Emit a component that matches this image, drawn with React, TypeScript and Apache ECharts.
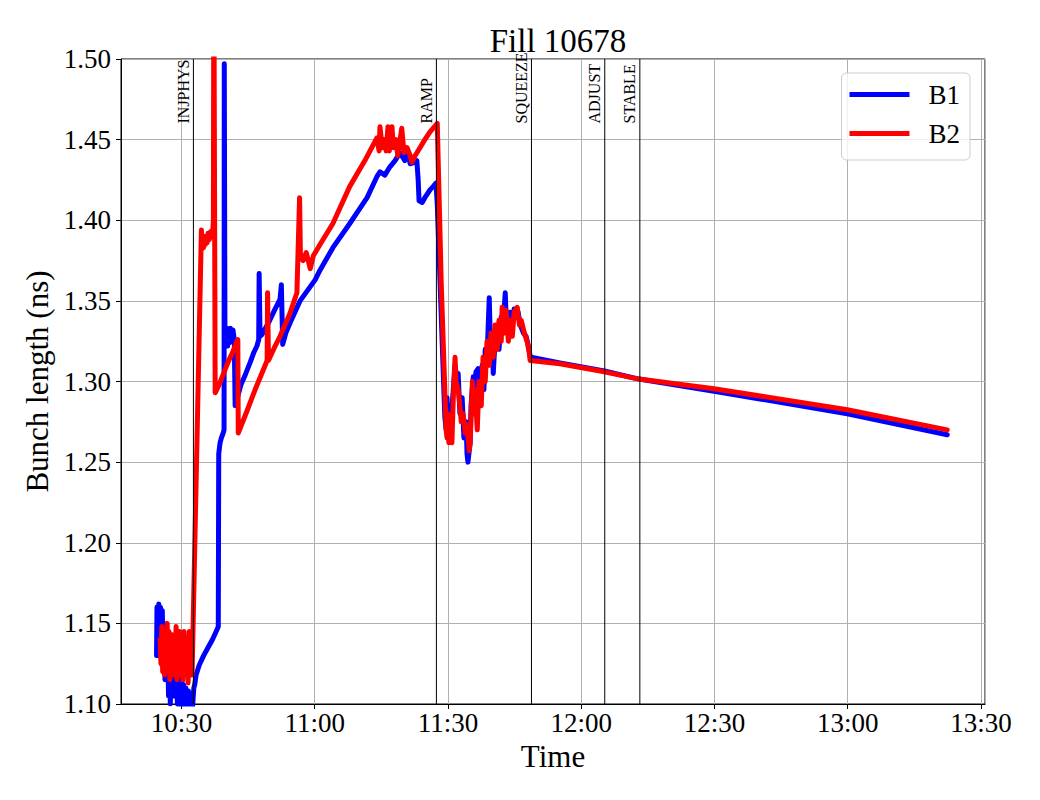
import React, { useEffect, useRef } from "react";
import * as echarts from "echarts";

const FONT = "Liberation Serif";

// Time in minutes since midnight
const b1Time = [
  624.4, 624.5, 624.7, 624.9, 625.1, 625.3, 625.5, 625.7, 625.9, 626.1, 626.3, 626.5, 626.7, 626.9, 627.1, 627.3,
  627.5, 627.7, 627.9, 628.1, 628.3, 628.5, 628.7, 628.9, 629.1, 629.3, 629.5, 629.7, 629.9, 630.1, 630.3, 630.5,
  630.8, 631.0, 631.3, 631.6, 631.9, 632.2, 632.5, 632.8, 633.0, 633.3, 634.0, 635.0, 636.0, 637.0, 638.0, 638.3,
  638.4, 638.7, 639.0, 639.4, 639.6, 639.65, 639.8, 640.0, 640.2, 640.4, 640.6, 640.8, 641.0, 641.3, 641.6, 641.9,
  642.1, 643.4, 644.5, 645.5, 646.3, 647.0, 647.4, 647.5, 647.7, 648.1, 649.9, 651.1, 652.2, 652.5, 652.8, 653.5,
  654.4, 656.7, 660.1, 661.2, 664.1, 667.9, 671.8, 674.0, 674.7, 675.8, 676.9, 678.1, 679.2, 680.3, 681.0, 681.5,
  682.6, 683.0, 683.3, 683.5, 684.2, 684.8, 686.0, 686.7, 687.3, 687.6, 688.5, 689.3, 689.6, 689.8, 690.0, 690.2,
  690.7, 691.2, 691.6, 692.1, 692.3, 692.7, 693.2, 693.6, 694.1, 694.3, 694.5, 695.0, 695.2, 695.7, 695.9, 696.3,
  696.8, 697.2, 697.7, 698.1, 698.4, 698.8, 699.3, 699.5, 699.9, 700.2, 700.6, 701.1, 701.5, 702.0, 702.4, 702.9,
  703.1, 703.6, 704.0, 704.5, 704.9, 705.4, 705.8, 706.3, 707.0, 707.6, 708.1, 708.5, 708.7, 715.2, 725.2, 733.0,
  749.9, 779.9, 802.4,
];
const b1Value = [
  1.13, 1.16, 1.14, 1.162, 1.13, 1.16, 1.125, 1.158, 1.12, 1.15, 1.115, 1.145, 1.12, 1.135, 1.105, 1.13,
  1.1, 1.125, 1.112, 1.13, 1.105, 1.125, 1.108, 1.12, 1.1, 1.118, 1.098, 1.115, 1.1, 1.12, 1.095, 1.112,
  1.098, 1.11, 1.095, 1.108, 1.097, 1.105, 1.098, 1.11, 1.112, 1.118, 1.124, 1.13, 1.135, 1.14, 1.146, 1.148,
  1.255, 1.262, 1.265, 1.268, 1.27, 1.497, 1.33, 1.325, 1.333, 1.322, 1.332, 1.324, 1.333, 1.325, 1.332, 1.326,
  1.285, 1.298, 1.305, 1.312, 1.318, 1.322, 1.326, 1.367, 1.328, 1.329, 1.338, 1.345, 1.351, 1.36, 1.323, 1.33,
  1.336, 1.35, 1.363, 1.369, 1.383, 1.398, 1.414, 1.427, 1.43, 1.428, 1.433, 1.437, 1.442, 1.437, 1.442, 1.435,
  1.436, 1.437, 1.425, 1.412, 1.411, 1.414, 1.419, 1.421, 1.423, 1.41, 1.34, 1.278, 1.27, 1.29, 1.268, 1.285,
  1.275, 1.295, 1.31, 1.3, 1.305, 1.28, 1.29, 1.265, 1.275, 1.255, 1.25, 1.262, 1.285, 1.303, 1.29, 1.306,
  1.308, 1.29, 1.31, 1.295, 1.32, 1.315, 1.352, 1.33, 1.33, 1.305, 1.325, 1.335, 1.32, 1.34, 1.335, 1.355,
  1.34, 1.335, 1.343, 1.335, 1.345, 1.34, 1.343, 1.335, 1.33, 1.328, 1.322, 1.316, 1.315, 1.3115, 1.3065, 1.3015,
  1.294, 1.28, 1.267,
];

const b2Time = [
  625.2, 625.4, 625.6, 625.8, 626.0, 626.2, 626.4, 626.6, 626.8, 627.0, 627.2, 627.4, 627.6, 627.8, 628.0, 628.2,
  628.4, 628.6, 628.8, 629.0, 629.2, 629.4, 629.6, 629.8, 630.0, 630.3, 630.6, 630.9, 631.2, 631.5, 631.8, 632.0,
  632.4, 634.5, 634.6, 634.8, 635.0, 635.2, 635.4, 635.6, 635.8, 636.0, 636.3, 636.6, 636.9, 637.1, 637.2, 637.3,
  637.6, 638.5, 639.5, 640.5, 641.5, 642.7, 642.8, 644.8, 646.6, 649.3, 649.4, 649.6, 651.1, 652.2, 654.4, 656.0,
  656.6, 656.8, 657.4, 658.1, 659.0, 659.7, 661.2, 664.1, 667.9, 671.3, 674.0, 674.5, 674.7, 675.2, 675.6, 676.1,
  676.5, 676.8, 677.4, 677.7, 678.3, 678.7, 679.6, 680.1, 680.8, 681.5, 681.9, 682.6, 683.7, 684.8, 686.0, 687.6,
  688.5, 689.6, 689.8, 690.0, 690.2, 690.5, 690.9, 691.2, 691.6, 691.8, 692.3, 692.7, 693.0, 693.4, 693.9, 694.3,
  694.8, 695.0, 695.5, 695.7, 696.1, 696.6, 697.0, 697.5, 697.9, 698.4, 698.8, 699.3, 699.7, 700.2, 700.6, 701.1,
  701.5, 702.0, 702.2, 702.7, 703.1, 703.6, 704.0, 704.5, 704.9, 705.6, 706.1, 706.5, 707.2, 707.9, 708.3, 708.5,
  715.2, 725.2, 733.0, 749.9, 779.9, 802.4,
];
const b2Value = [
  1.14, 1.125, 1.148, 1.12, 1.145, 1.118, 1.14, 1.125, 1.15, 1.12, 1.145, 1.115, 1.14, 1.12, 1.143, 1.118,
  1.135, 1.12, 1.148, 1.115, 1.14, 1.12, 1.145, 1.118, 1.14, 1.115, 1.145, 1.12, 1.14, 1.113, 1.145, 1.13,
  1.118, 1.394, 1.382, 1.388, 1.383, 1.39, 1.385, 1.39, 1.386, 1.392, 1.388, 1.393, 1.39, 1.395, 1.4, 1.56,
  1.293, 1.298, 1.305, 1.312, 1.318, 1.326, 1.268, 1.282, 1.295, 1.313, 1.355, 1.313, 1.322, 1.328, 1.342, 1.355,
  1.414, 1.377, 1.375, 1.38, 1.37, 1.378, 1.385, 1.398, 1.421, 1.437, 1.451, 1.443, 1.458, 1.445, 1.45, 1.443,
  1.458, 1.443, 1.458, 1.445, 1.45, 1.44, 1.457, 1.442, 1.445, 1.44, 1.436, 1.44, 1.445, 1.45, 1.455, 1.46,
  1.36, 1.27, 1.265, 1.28, 1.262, 1.27, 1.262, 1.29, 1.315, 1.3, 1.295, 1.285, 1.275, 1.28, 1.268, 1.273,
  1.257, 1.262, 1.3, 1.28, 1.295, 1.27, 1.3, 1.285, 1.315, 1.3, 1.325, 1.31, 1.33, 1.315, 1.335, 1.32,
  1.338, 1.325, 1.346, 1.33, 1.344, 1.325, 1.338, 1.328, 1.343, 1.346, 1.335, 1.338, 1.33, 1.324, 1.318, 1.313,
  1.311, 1.306, 1.3015, 1.2955, 1.2825, 1.27,
];

const eventNames = ["INJPHYS", "RAMP", "SQUEEZE", "ADJUST", "STABLE"];
const eventTimes = [632.7, 687.4, 708.8, 725.3, 733.2];
const eventLabelY = 1.46;

const xMin = 616.4;
const xMax = 810.9;
const yMin = 1.1;
const yMax = 1.5;

function fmtTime(v: number) {
  const h = Math.floor(v / 60);
  const m = Math.round(v - h * 60);
  return `${h}:${m < 10 ? "0" + m : m}`;
}

export default function App() {
  const ref = useRef<HTMLDivElement>(null);
  useEffect(() => {
    if (!ref.current) return;
    const chart = echarts.init(ref.current, null, { renderer: "svg" });
    const b1 = b1Time.map((t, i) => [t, b1Value[i]]);
    const b2 = b2Time.map((t, i) => [t, b2Value[i]]);
    const ev = eventTimes.map((t, i) => [t, eventLabelY, eventNames[i]]);
    chart.setOption({
      animation: false,
      backgroundColor: "#ffffff",
      title: {
        text: "Fill 10678",
        left: 553,
        top: 19,
        textAlign: "center",
        textStyle: { fontFamily: FONT, fontSize: 33, fontWeight: "normal", color: "#000" },
      },
      legend: {
        orient: "vertical",
        right: 70,
        top: 73,
        data: ["B1", "B2"],
        icon: "rect",
        itemWidth: 60,
        itemHeight: 5,
        itemGap: 12,
        padding: [8, 10, 13, 8],
        backgroundColor: "rgba(255,255,255,0.8)",
        borderColor: "#cccccc",
        borderWidth: 1,
        borderRadius: 5,
        textStyle: { fontFamily: FONT, fontSize: 27, color: "#000", padding: [0, 0, 0, 14], lineHeight: 26 },
      },
      grid: {
        left: 121,
        right: 55,
        top: 59,
        bottom: 96,
        show: true,
        borderColor: "#000",
        borderWidth: 1,
        backgroundColor: "transparent",
      },
      xAxis: {
        type: "value",
        min: xMin,
        max: xMax,
        minInterval: 30,
        maxInterval: 30,
        name: "Time",
        nameLocation: "middle",
        nameGap: 33,
        nameTextStyle: { fontFamily: FONT, fontSize: 31, color: "#000" },
        axisLine: { show: true, onZero: false, lineStyle: { color: "#000", width: 1 } },
        axisTick: { show: true, inside: false, length: 5, lineStyle: { color: "#000" } },
        axisLabel: {
          formatter: (v: number) => fmtTime(v),
          fontFamily: FONT,
          fontSize: 27,
          color: "#000",
          margin: 5,
          showMinLabel: false,
        },
        splitLine: { show: true, lineStyle: { color: "#b0b0b0", width: 1 } },
      },
      yAxis: {
        type: "value",
        min: yMin,
        max: yMax,
        interval: 0.05,
        name: "Bunch length (ns)",
        nameLocation: "middle",
        nameGap: 65,
        nameTextStyle: { fontFamily: FONT, fontSize: 31, color: "#000" },
        axisLine: { show: true, lineStyle: { color: "#000", width: 1 } },
        axisTick: { show: true, inside: false, length: 5, lineStyle: { color: "#000" } },
        axisLabel: {
          formatter: (v: number) => v.toFixed(2),
          fontFamily: FONT,
          fontSize: 27,
          color: "#000",
          margin: 10,
        },
        splitLine: { show: true, lineStyle: { color: "#b0b0b0", width: 1 } },
      },
      series: [
        {
          name: "B1",
          type: "line",
          data: b1,
          showSymbol: false,
          symbol: "none",
          color: "#0000ff",
          lineStyle: { color: "#0000ff", width: 5, join: "round", cap: "round" },
          clip: true,
          z: 2,
        },
        {
          name: "B2",
          type: "line",
          data: b2,
          showSymbol: false,
          symbol: "none",
          color: "#ff0000",
          lineStyle: { color: "#ff0000", width: 5, join: "round", cap: "round" },
          clip: true,
          z: 3,
        },
        {
          name: "events",
          type: "custom",
          data: ev,
          encode: { x: 0, y: 1 },
          z: 5,
          silent: true,
          renderItem: (params: any, api: any) => {
            const t = api.value(0);
            const ly = api.value(1);
            const top = api.coord([t, yMax]);
            const bot = api.coord([t, yMin]);
            const lab = api.coord([t, ly]);
            return {
              type: "group",
              children: [
                {
                  type: "line",
                  shape: { x1: top[0], y1: top[1], x2: bot[0], y2: bot[1] },
                  style: { stroke: "#000", lineWidth: 1 },
                },
                {
                  type: "text",
                  x: lab[0] - 2,
                  y: lab[1],
                  rotation: Math.PI / 2,
                  style: {
                    text: eventNames[params.dataIndex],
                    fontFamily: FONT,
                    fontSize: 16,
                    fill: "#000",
                    align: "left",
                    verticalAlign: "bottom",
                  },
                },
              ],
            };
          },
        },
      ],
    });
    return () => chart.dispose();
  }, []);
  return (
    <div
      ref={ref}
      style={{ position: "absolute", left: 0, top: 0, width: 1040, height: 800 }}
    />
  );
}
